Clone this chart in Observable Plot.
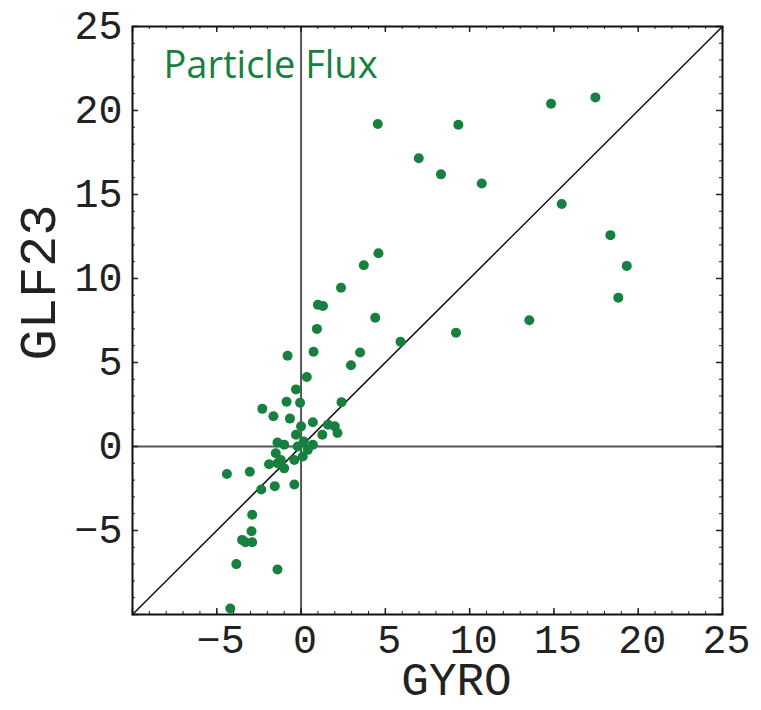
<!DOCTYPE html>
<html>
<head>
<meta charset="utf-8">
<script src="https://cdn.jsdelivr.net/npm/d3@7"></script>
<script src="https://cdn.jsdelivr.net/npm/@observablehq/plot@0.6"></script>
<style>
  body { margin: 0; background: #fff; }
</style>
</head>
<body>
<div id="chart"></div>
<script>
// GYRO (x) vs GLF23 (y) particle flux values
const gyro = [1.0, 1.3, 0.94, 4.4, 5.9, -0.8, 0.74, 3.5, 2.96, 0.34, -0.3, -0.86, -0.06, -2.3, -1.64, 2.4,
  -0.66, 0.0, 0.7, 1.6, 2.0, 2.16, 1.26, -0.3, -1.4, -1.0, 0.16, 0.7, -0.2, 0.4, -1.5, 0.1, -0.4, -1.9,
  -1.4, -1.0, -1.2, -4.4, -3.04, -2.36, -1.56, -0.4, -2.9, -2.94, -3.5, -2.9, -3.3, -3.84, -1.4, -4.2,
  4.55, 6.98, 8.3, 4.59, 3.72, 2.37, 9.33, 14.83, 17.46, 10.72, 15.46, 18.35, 19.32, 18.82, 13.54, 9.19];
const glf23 = [8.44, 8.36, 7.0, 7.66, 6.24, 5.4, 5.64, 5.6, 4.84, 4.14, 3.4, 2.66, 2.6, 2.24, 1.8, 2.64,
  1.66, 1.2, 1.44, 1.3, 1.2, 0.8, 0.7, 0.7, 0.24, 0.1, 0.3, 0.1, 0.0, -0.2, -0.4, -0.6, -0.8, -1.06,
  -1.0, -1.3, -0.8, -1.64, -1.5, -2.56, -2.36, -2.26, -4.06, -5.04, -5.56, -5.7, -5.7, -7.0, -7.32, -9.64,
  19.2, 17.16, 16.2, 11.5, 10.79, 9.45, 19.15, 20.4, 20.78, 15.66, 14.43, 12.58, 10.75, 8.86, 7.52, 6.77];
const axisDomain = [-10, 25];
const tickLabels = [-5, 0, 5, 10, 15, 20, 25];
const majorTicks = [-10, -5, 0, 5, 10, 15, 20, 25];
const minorTicks = d3.range(-10, 26, 1);
const title = "Particle Flux";
const xLabel = "GYRO";
const yLabel = "GLF23";

const points = gyro.map((x, i) => ({x, y: glf23[i]}));

const W = 761, H = 710, mL = 132, mR = 39, mT = 26, mB = 96;
const innerW = W - mL - mR, innerH = H - mT - mB;
const green = "#17803f";
const mono = "'Courier New', 'Liberation Mono', monospace";

const chart = Plot.plot({
  width: W, height: H,
  marginLeft: mL, marginRight: mR, marginTop: mT, marginBottom: mB,
  x: {domain: axisDomain},
  y: {domain: axisDomain},
  style: {fontFamily: mono, fontSize: "40px", color: "#222", background: "#fff"},
  marks: [
    Plot.ruleX([0], {stroke: "#555", strokeWidth: 2}),
    Plot.ruleY([0], {stroke: "#555", strokeWidth: 2}),
    Plot.line(axisDomain, {x: d => d, y: d => d, stroke: "#111", strokeWidth: 1.5}),
    Plot.dot(points, {x: "x", y: "y", r: 5, fill: green, stroke: "none"}),
    // inward minor & major ticks on all four sides
    Plot.tickX(minorTicks, {x: d => d, insetTop: innerH - 3, stroke: "#222"}),
    Plot.tickX(minorTicks, {x: d => d, insetBottom: innerH - 3, stroke: "#222"}),
    Plot.tickY(minorTicks, {y: d => d, insetRight: innerW - 3, stroke: "#222"}),
    Plot.tickY(minorTicks, {y: d => d, insetLeft: innerW - 3, stroke: "#222"}),
    Plot.tickX(majorTicks, {x: d => d, insetTop: innerH - 6, stroke: "#222", strokeWidth: 1.5}),
    Plot.tickX(majorTicks, {x: d => d, insetBottom: innerH - 6, stroke: "#222", strokeWidth: 1.5}),
    Plot.tickY(majorTicks, {y: d => d, insetRight: innerW - 6, stroke: "#222", strokeWidth: 1.5}),
    Plot.tickY(majorTicks, {y: d => d, insetLeft: innerW - 6, stroke: "#222", strokeWidth: 1.5}),
    Plot.frame({stroke: "#111", strokeWidth: 2}),
    Plot.axisX(tickLabels, {tickSize: 0, tickPadding: 10, dx: 4, label: null, fontSize: 40, fill: "#222"}),
    Plot.axisY(tickLabels, {tickSize: 0, tickPadding: 10, label: null, fontSize: 40, fill: "#222"}),
    Plot.text([xLabel], {frameAnchor: "bottom", dx: 29, dy: 80, fontSize: 46, fill: "#222"}),
    Plot.text([yLabel], {frameAnchor: "left", rotate: -90, dx: -94, dy: 40, fontSize: 52, fill: "#222"}),
    Plot.text([title], {frameAnchor: "top-left", dx: 31, dy: 25, textAnchor: "start", lineAnchor: "top",
      fontSize: 38, fontFamily: "'Open Sans', sans-serif", fill: green})
  ]
});
document.getElementById("chart").appendChild(chart);
</script>
</body>
</html>
